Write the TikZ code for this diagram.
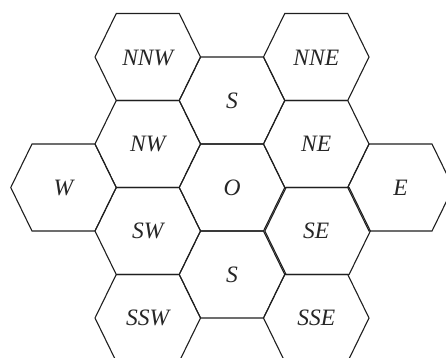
\documentclass[tikz,border=0pt]{standalone}
\usepackage{fontspec}
\setmainfont{Liberation Serif}
\begin{document}
\begin{tikzpicture}[x=1pt,y=-1pt,
  hexline/.style={draw=black!88,line width=1.1pt,line join=miter},
  hexcell/.pic={\path[hexline] (-52.75,0) -- (-31.5,-43.5) -- (31.5,-43.5) -- (52.75,0) -- (31.5,43.5) -- (-31.5,43.5) -- cycle;},
  lbl/.style={font=\fontsize{23.5}{23.5}\selectfont\itshape,text=black!85,inner sep=0pt}]
\useasboundingbox (0,0) rectangle (446,357);
\begin{scope}
\clip (0,0) rectangle (446,357);
% column 0
\pic at (63.5,187.5) {hexcell};
% column 1
\pic at (147.75,57) {hexcell};
\pic at (147.75,144) {hexcell};
\pic at (147.75,231) {hexcell};
\pic at (147.75,318) {hexcell};
% column 2
\pic at (232,100.5) {hexcell};
\pic at (232,187.5) {hexcell};
\pic at (232,274.5) {hexcell};
% column 3
\pic at (316.25,57) {hexcell};
\pic at (316.25,144) {hexcell};
\pic at (317.6,231) {hexcell};
\pic at (316.25,318) {hexcell};
% column 4
\pic at (400.5,187.5) {hexcell};
\end{scope}
% labels
\node[lbl] (w) at (63.5,187.5) {W};
\node[lbl] (nnw) at (147.75,57.5) {NNW};
\node[lbl] (nw) at (147.75,144) {NW};
\node[lbl] (sw) at (147.75,231) {SW};
\node[lbl] (ssw) at (147.75,318) {SSW};
\node[lbl] (sn) at (232,100.5) {S};
\node[lbl] (o) at (232,187.5) {O};
\node[lbl] (ss) at (232,274.5) {S};
\node[lbl] (nne) at (316.25,57.5) {NNE};
\node[lbl] (ne) at (316.25,144) {NE};
\node[lbl] (se) at (316.25,231) {SE};
\node[lbl] (sse) at (316.25,318) {SSE};
\node[lbl] (e) at (400.5,187.5) {E};
\end{tikzpicture}
\end{document}
